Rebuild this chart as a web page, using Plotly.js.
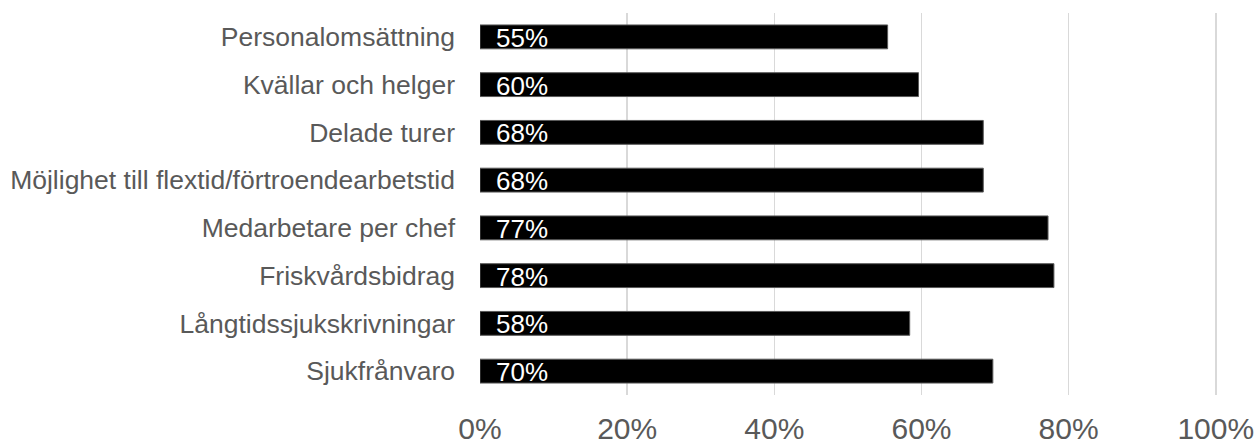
<!DOCTYPE html>
<html>
<head>
<meta charset="utf-8">
<script src="https://cdn.plot.ly/plotly-3.0.1.min.js"></script>
<style>
  html, body { margin: 0; padding: 0; background: #fff; }
  #chart { width: 1259px; height: 447px; }
</style>
</head>
<body>
<div id="chart"></div>
<script>
const categories = [
  "Personalomsättning",
  "Kvällar och helger",
  "Delade turer",
  "Möjlighet till flextid/förtroendearbetstid",
  "Medarbetare per chef",
  "Friskvårdsbidrag",
  "Långtidssjukskrivningar",
  "Sjukfrånvaro"
];
const values = [55.4, 59.6, 68.4, 68.4, 77.2, 78.0, 58.4, 69.7];
const labels = ["55%", "60%", "68%", "68%", "77%", "78%", "58%", "70%"];
const tickVals = [0, 20, 40, 60, 80, 100];
const tickText = ["0%", "20%", "40%", "60%", "80%", "100%"];

const FONT = '"Liberation Sans", Arial, sans-serif';

const trace = {
  type: 'bar',
  orientation: 'h',
  x: values,
  y: categories,
  marker: { color: '#000000', line: { color: '#595959', width: 1 } },
  hoverinfo: 'skip'
};

const annotations = categories.map((c, i) => ({
  x: 0, y: c, xref: 'x', yref: 'y',
  text: labels[i],
  showarrow: false,
  xanchor: 'left',
  yanchor: 'middle',
  xshift: 14,
  yshift: -1,
  font: { family: FONT, size: 26, color: '#ffffff' }
}));

const layout = {
  width: 1259, height: 447,
  margin: { l: 480, r: 41, t: 13, b: 52, pad: 0 },
  paper_bgcolor: '#ffffff',
  plot_bgcolor: '#ffffff',
  showlegend: false,
  bargap: 0.5,
  font: { family: FONT, color: '#595959' },
  xaxis: {
    range: [0, 100.3],
    tickvals: tickVals,
    ticktext: tickText,
    showgrid: true,
    gridcolor: '#d9d9d9',
    gridwidth: 1.5,
    zeroline: false,
    showline: false,
    ticks: '',
    ticklabelstandoff: 13,
    tickfont: { family: FONT, size: 30, color: '#595959' },
    fixedrange: true
  },
  yaxis: {
    autorange: 'reversed',
    showgrid: false,
    zeroline: false,
    showline: false,
    ticks: '',
    ticklabelstandoff: 24,
    tickfont: { family: FONT, size: 26.5, color: '#595959' },
    fixedrange: true
  },
  annotations: annotations
};

Plotly.newPlot('chart', [trace], layout, { displayModeBar: false, staticPlot: true });
</script>
</body>
</html>
